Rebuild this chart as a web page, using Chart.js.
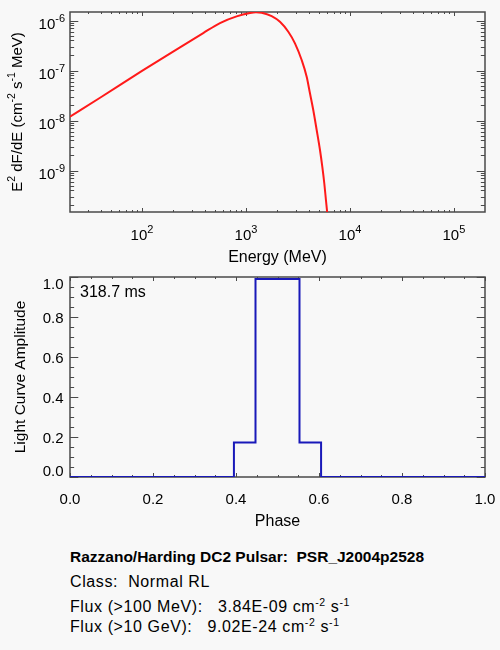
<!DOCTYPE html>
<html>
<head>
<meta charset="utf-8">
<script src="https://cdn.jsdelivr.net/npm/chart.js@4.4.0/dist/chart.umd.min.js"></script>
<style>
  body { margin: 0; background: #f8f8f8; }
  #wrap { position: relative; width: 500px; height: 650px; background: #f8f8f8;
          font-family: "Liberation Sans", Arial, sans-serif; color: #000; }
  canvas { position: absolute; left: 0; }
  .line { position: absolute; left: 70px; font-size: 16px; line-height: 16px; white-space: pre; letter-spacing: 0.6px; }
  .title { font-size: 15.5px; line-height: 15.5px; font-weight: bold; letter-spacing: 0; }
  .sup { font-size: 10.5px; position: relative; top: -6px; }
</style>
</head>
<body>
<div id="wrap">
  <canvas id="spec" width="500" height="270" style="top:0"></canvas>
  <canvas id="lc" width="500" height="260" style="top:270px"></canvas>
  <div class="line title" style="top:549px">Razzano/Harding DC2 Pulsar:  PSR_J2004p2528</div>
  <div class="line" style="top:574px">Class:  Normal RL</div>
  <div class="line" style="top:599px">Flux (&gt;100 MeV):   3.84E-09 cm<span class="sup">-2</span> s<span class="sup">-1</span></div>
  <div class="line" style="top:619px">Flux (&gt;10 GeV):   9.02E-24 cm<span class="sup">-2</span> s<span class="sup">-1</span></div>
</div>
<script>
// spectrum (MeV, E^2 dF/dE)
const energy = [20.3, 39.5, 100, 232, 388, 562, 813, 1092, 1248, 1415, 1766, 2123,
                2553, 2959, 3433, 3836, 4125, 4437, 4786, 5150, 5420, 5667, 5875, 6053];
const e2dfde = [1.19e-8, 2.85e-8, 9.8e-8, 2.91e-7, 5.62e-7, 8.9e-7, 1.21e-6, 1.41e-6, 1.46e-6, 1.43e-6, 1.23e-6, 9.46e-7,
                5.97e-7, 3.5e-7, 1.62e-7, 7.5e-8, 3.5e-8, 1.62e-8, 6.46e-9, 2.57e-9, 1.19e-9, 5.5e-10, 2.57e-10, 1.39e-10];

// light curve (step edges in phase and level)
const phase = [0, 0.395, 0.447, 0.553, 0.605, 1.0];
const amplitude = [0, 0.173, 0.99, 0.173, 0, 0];

// tick labels
const energyTicks = [1e2, 1e3, 1e4, 1e5];
const energyExp = ['2', '3', '4', '5'];
const fluxTicks = [1e-9, 1e-8, 1e-7, 1e-6];
const fluxExp = ['-9', '-8', '-7', '-6'];
const phaseTicks = [0, 0.2, 0.4, 0.6, 0.8, 1.0];
const ampTicks = [0, 0.2, 0.4, 0.6, 0.8, 1.0];

const FONT = '"Liberation Sans", Arial, sans-serif';
const AXIS = '#4a4a4a';

function logTicks(min, max) {
  const out = [];
  for (let d = Math.floor(Math.log10(min)); d <= Math.ceil(Math.log10(max)); d++) {
    for (let m = 1; m <= 9; m++) {
      const v = m * Math.pow(10, d);
      if (v >= min && v <= max) out.push({ v: v, major: m === 1 });
    }
  }
  return out;
}
function linTicks(min, max, step, every) {
  const out = [];
  const n = Math.round((max - min) / step);
  for (let i = 0; i <= n; i++) out.push({ v: min + i * step, major: i % every === 0 });
  return out;
}

// box plus inward ticks on all four sides
function drawFrame(chart, xt, yt) {
  const ctx = chart.ctx, a = chart.chartArea;
  const xs = chart.scales.x, ys = chart.scales.y;
  const xl = (a.bottom - a.top) * 0.02, yl = (a.right - a.left) * 0.02;
  ctx.save();
  ctx.strokeStyle = AXIS;
  ctx.lineWidth = 1;
  ctx.beginPath();
  xt.forEach(t => {
    const p = Math.round(xs.getPixelForValue(t.v)) + 0.5, l = t.major ? xl : xl / 2;
    ctx.moveTo(p, a.bottom); ctx.lineTo(p, a.bottom - l);
    ctx.moveTo(p, a.top); ctx.lineTo(p, a.top + l);
  });
  yt.forEach(t => {
    const p = Math.round(ys.getPixelForValue(t.v)) + 0.5, l = t.major ? yl : yl / 2;
    ctx.moveTo(a.left, p); ctx.lineTo(a.left + l, p);
    ctx.moveTo(a.right, p); ctx.lineTo(a.right - l, p);
  });
  ctx.stroke();
  ctx.lineWidth = 1.5;
  ctx.strokeRect(a.left, a.top, a.right - a.left, a.bottom - a.top);
  ctx.restore();
}

// text with superscript pieces; parts = [[text, isSup, size], ...]
function richText(ctx, parts, x, y, align, rotate) {
  ctx.save();
  ctx.translate(x, y);
  if (rotate) ctx.rotate(-Math.PI / 2);
  ctx.fillStyle = '#000';
  ctx.textAlign = 'left';
  ctx.textBaseline = 'alphabetic';
  let w = 0;
  parts.forEach(p => { ctx.font = p[2] + 'px ' + FONT; w += ctx.measureText(p[0]).width; });
  let cx = align === 'center' ? -w / 2 : (align === 'right' ? -w : 0);
  parts.forEach(p => {
    ctx.font = p[2] + 'px ' + FONT;
    ctx.fillText(p[0], cx, p[1] ? -7 : 0);
    cx += ctx.measureText(p[0]).width;
  });
  ctx.restore();
}

const specAxes = {
  id: 'specAxes',
  beforeDatasetsDraw(chart) {
    drawFrame(chart, logTicks(chart.scales.x.min, chart.scales.x.max), logTicks(chart.scales.y.min, chart.scales.y.max));
  },
  afterDraw(chart) {
    const ctx = chart.ctx, a = chart.chartArea;
    energyTicks.forEach((v, i) => {
      richText(ctx, [['10', false, 15], [energyExp[i], true, 11]], chart.scales.x.getPixelForValue(v), a.bottom + 28, 'center');
    });
    fluxTicks.forEach((v, i) => {
      richText(ctx, [['10', false, 15], [fluxExp[i], true, 11]], 65, chart.scales.y.getPixelForValue(v) + 8, 'right');
    });
    richText(ctx, [['Energy (MeV)', false, 16]], (a.left + a.right) / 2, a.bottom + 50, 'center');
    richText(ctx, [['E', false, 15], ['2', true, 10.5], [' dF/dE (cm', false, 15], ['-2', true, 10.5],
                   [' s', false, 15], ['-1', true, 10.5], [' MeV)', false, 15]],
             21.5, (a.top + a.bottom) / 2, 'center', true);
  }
};

const lcAxes = {
  id: 'lcAxes',
  beforeDatasetsDraw(chart) {
    drawFrame(chart, linTicks(0, 1, 0.05, 4), linTicks(0, 1, 0.05, 4));
  },
  afterDraw(chart) {
    const ctx = chart.ctx, a = chart.chartArea;
    ctx.save();
    ctx.fillStyle = '#000';
    ctx.font = '15px ' + FONT;
    ctx.textAlign = 'center';
    ctx.textBaseline = 'middle';
    phaseTicks.forEach(v => ctx.fillText(v.toFixed(1), chart.scales.x.getPixelForValue(v), a.bottom + 23));
    ctx.textAlign = 'right';
    ampTicks.forEach(v => {
      let y = chart.scales.y.getPixelForValue(v) + 1.5;
      y = Math.min(Math.max(y, a.top + 7.5), a.bottom - 5.5);
      ctx.fillText(v.toFixed(1), 63.5, y);
    });
    ctx.font = '16px ' + FONT;
    ctx.textAlign = 'left';
    ctx.fillText('318.7 ms', a.left + 10, a.top + 15.5);
    ctx.textAlign = 'center';
    ctx.fillText('Phase', (a.left + a.right) / 2, a.bottom + 45);
    ctx.restore();
    richText(ctx, [['Light Curve Amplitude', false, 15.5]], 24.5, (a.top + a.bottom) / 2, 'center', true);
  }
};

new Chart(document.getElementById('spec'), {
  type: 'line',
  data: {
    datasets: [{
      data: energy.map((e, i) => ({ x: e, y: e2dfde[i] })),
      borderColor: '#ff1a1a',
      borderWidth: 2,
      pointRadius: 0,
      cubicInterpolationMode: 'monotone'
    }]
  },
  options: {
    responsive: false,
    animation: false,
    layout: { autoPadding: false, padding: { left: 70, right: 15, top: 12, bottom: 58 } },
    plugins: { legend: { display: false }, tooltip: { enabled: false } },
    scales: {
      x: { type: 'logarithmic', min: 20.3, max: 1.99e5, display: false },
      y: { type: 'logarithmic', min: 1.48e-10, max: 1.48e-6, display: false }
    }
  },
  plugins: [specAxes]
});

new Chart(document.getElementById('lc'), {
  type: 'line',
  data: {
    datasets: [{
      data: phase.map((p, i) => ({ x: p, y: amplitude[i] })),
      borderColor: 'rgb(25,25,185)',
      borderWidth: 2,
      pointRadius: 0,
      stepped: 'before'
    }]
  },
  options: {
    responsive: false,
    animation: false,
    layout: { autoPadding: false, padding: { left: 70, right: 15, top: 7, bottom: 53 } },
    plugins: { legend: { display: false }, tooltip: { enabled: false } },
    scales: {
      x: { type: 'linear', min: 0, max: 1, display: false },
      y: { type: 'linear', min: 0, max: 1, display: false }
    }
  },
  plugins: [lcAxes]
});
</script>
</body>
</html>
